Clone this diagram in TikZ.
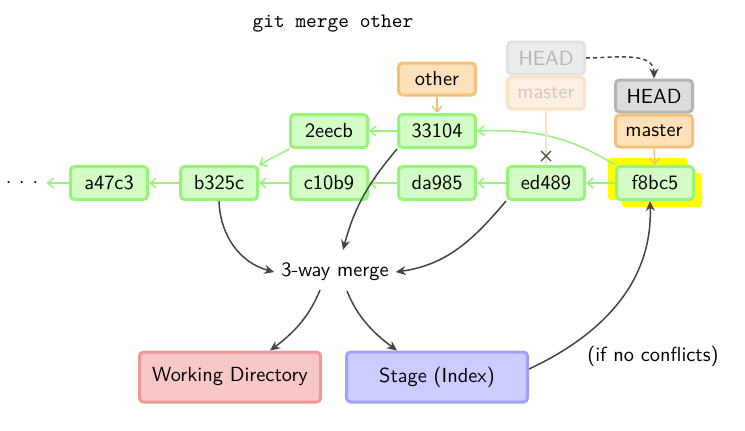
\documentclass[tikz,border=0pt]{standalone}
\usetikzlibrary{arrows.meta}
\definecolor{gfill}{RGB}{211,252,198}
\definecolor{gdraw}{RGB}{150,245,120}
\definecolor{ofill}{RGB}{253,225,187}
\definecolor{odraw}{RGB}{245,192,122}
\definecolor{hfill}{RGB}{221,221,221}
\definecolor{hdraw}{RGB}{180,180,180}
\definecolor{fhfill}{RGB}{236,236,236}
\definecolor{fhdraw}{RGB}{226,226,226}
\definecolor{fhtext}{RGB}{180,180,180}
\definecolor{fofill}{RGB}{253,240,225}
\definecolor{fodraw}{RGB}{250,226,196}
\definecolor{fotext}{RGB}{200,200,200}
\definecolor{rfill}{RGB}{248,200,200}
\definecolor{rdraw}{RGB}{240,150,150}
\definecolor{bfill}{RGB}{204,204,255}
\definecolor{bdraw}{RGB}{160,160,250}
\definecolor{dark}{RGB}{68,68,68}
\definecolor{ylw}{RGB}{255,255,0}
\begin{document}
\begin{tikzpicture}[x=0.5pt,y=-0.5pt,font=\sffamily\fontsize{10.2}{12}\selectfont,
  commit/.style={draw=gdraw,fill=gfill,line width=1.5pt,rounded corners=2pt,minimum width=38.5pt,minimum height=16.5pt,inner sep=0pt},
  refbox/.style={draw=odraw,fill=ofill,line width=1.5pt,rounded corners=2pt,minimum width=38.5pt,minimum height=16pt,inner sep=0pt},
  headbox/.style={draw=hdraw,fill=hfill,line width=1.5pt,rounded corners=2pt,minimum width=38.5pt,minimum height=16pt,inner sep=0pt},
  fadehead/.style={draw=fhdraw,fill=fhfill,text=fhtext,line width=1.5pt,rounded corners=2pt,minimum width=38.5pt,minimum height=16pt,inner sep=0pt},
  fademaster/.style={draw=fodraw,fill=fofill,text=fotext,line width=1.5pt,rounded corners=2pt,minimum width=38.5pt,minimum height=16pt,inner sep=0pt},
  areabox/.style={line width=1.5pt,rounded corners=2pt,minimum width=90.5pt,minimum height=25pt,inner sep=0pt},
  garrow/.style={draw=gdraw,line width=0.75pt,-{Straight Barb[length=3pt,width=5pt]}},
  oarrow/.style={draw=odraw,line width=0.75pt,-{Straight Barb[length=3pt,width=5pt]}},
  darrow/.style={draw=dark,line width=0.75pt,-{Stealth[length=5pt,width=4.5pt]}}]
\useasboundingbox (0,0) rectangle (745,430);

\node[font=\ttfamily\fontsize{10.2}{12}\selectfont] (title) at (333,24) {git merge other};

% yellow highlight behind f8bc5
\fill[ylw,rounded corners=1.5pt] (608,158) rectangle (687,200);
\fill[ylw,rounded corners=1.5pt] (622,173) rectangle (702,207);

\node[commit] (a47c3) at (109,183) {a47c3};
\node[commit] (b325c) at (219,183) {b325c};
\node[commit] (c10b9) at (329,183) {c10b9};
\node[commit] (da985) at (437,183) {da985};
\node[commit] (ed489) at (546,183) {ed489};
\node[commit] (f8bc5) at (655,183) {f8bc5};
\node[commit] (2eecb) at (329,131) {2eecb};
\node[commit] (33104) at (437,131) {33104};
\node[inner sep=1pt] (dots) at (22,183) {$\cdot\,\cdot\,\cdot$};

\node[refbox] (other) at (437,79) {other};

% faded HEAD/master
\node[fadehead] (oldhead) at (546,58) {HEAD};
\node[fademaster] (oldmaster) at (546,93) {master};

% current HEAD/master
\node[headbox] (head) at (654,96) {HEAD};
\node[refbox] (master) at (654,131) {master};

\node (merge) at (335,272) {3-way merge};
\node[areabox,draw=rdraw,fill=rfill] (wd) at (230,377) {Working Directory};
\node[areabox,draw=bdraw,fill=bfill] (stage) at (437,377) {Stage (Index)};
\node (cond) at (653,356) {(if no conflicts)};

\coordinate (mwd) at (320,290);
\coordinate (mst) at (347,291);

% green parent arrows
\draw[garrow] (a47c3) -- ([xshift=3pt]dots.east);
\draw[garrow] (b325c) -- (a47c3);
\draw[garrow] (c10b9) -- (b325c);
\draw[garrow] (da985) -- (c10b9);
\draw[garrow] (ed489) -- (da985);
\draw[garrow] (f8bc5) -- (ed489);
\draw[garrow] (33104) -- (2eecb);
\draw[garrow] (2eecb.south west) -- (b325c.north east);
\draw[garrow] (f8bc5.north west) to[out=148,in=2] (33104.east);

% refs
\draw[oarrow] (other) -- (33104);
\draw[oarrow] (master) -- (f8bc5);
\draw[draw=fodraw,line width=0.75pt] (oldmaster) -- (ed489);
\draw[dark,line width=0.6pt] (541,151) -- (551,161) (551,151) -- (541,161);
\draw[darrow,dash pattern=on 2pt off 1.6pt] (oldhead.east) to[out=0,in=90] (head.north);

% merge flow
\draw[darrow] (b325c.south) to[out=-88,in=165] (merge.west);
\draw[darrow] (33104.south west) to[out=-130,in=75] ([xshift=4pt,yshift=3pt]merge.north);
\draw[darrow] (ed489.south west) to[out=-130,in=8] (merge.east);
\draw[darrow] (mwd) .. controls (310,315) and (295,332) .. ([xshift=20pt]wd.north);
\draw[darrow] (mst) .. controls (357,316) and (372,332) .. ([xshift=-20pt]stage.north);
\draw[darrow] ([yshift=4pt]stage.east) to[out=25,in=-88] ([xshift=-2.5pt]f8bc5.south);
\end{tikzpicture}
\end{document}
